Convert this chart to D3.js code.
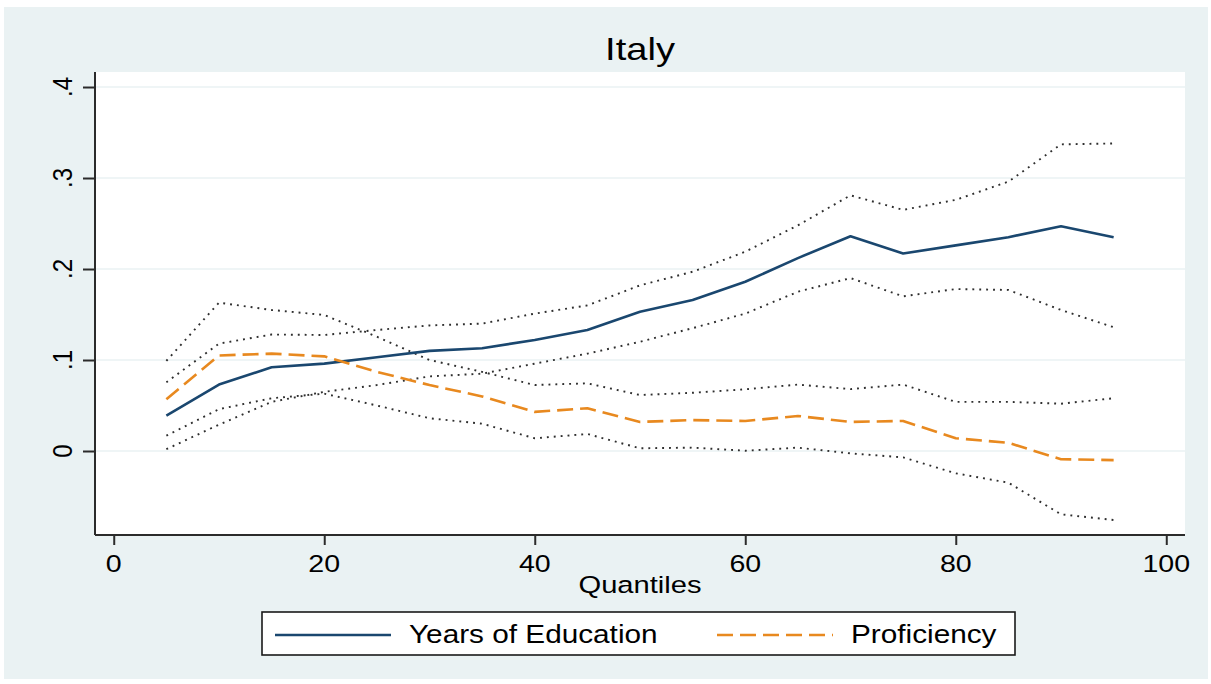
<!DOCTYPE html>
<html>
<head>
<meta charset="utf-8">
<script src="https://cdn.jsdelivr.net/npm/d3@7"></script>
<style>
  html, body { margin: 0; padding: 0; background: #ffffff; }
  svg { display: block; }
  text { font-family: "Liberation Sans", Arial, sans-serif; fill: #000; }
</style>
</head>
<body>
<svg id="chart" width="1211" height="684"></svg>
<script>
// ---- data ----
const title = "Italy";
const xTitle = "Quantiles";
const quantiles = [5, 10, 15, 20, 25, 30, 35, 40, 45, 50, 55, 60, 65, 70, 75, 80, 85, 90, 95];
const education = [0.039, 0.073, 0.092, 0.096, 0.103, 0.110, 0.113, 0.122, 0.133, 0.153, 0.166, 0.186, 0.212, 0.236, 0.217, 0.226, 0.235, 0.247, 0.235];
const educationHi = [0.0755, 0.118, 0.128, 0.1275, 0.133, 0.138, 0.140, 0.151, 0.160, 0.182, 0.197, 0.219, 0.248, 0.281, 0.265, 0.276, 0.296, 0.337, 0.338];
const educationLo = [0.002, 0.029, 0.054, 0.065, 0.0725, 0.082, 0.085, 0.096, 0.107, 0.120, 0.135, 0.151, 0.175, 0.190, 0.170, 0.178, 0.177, 0.155, 0.136];
const proficiency = [0.057, 0.105, 0.107, 0.104, 0.087, 0.0725, 0.060, 0.043, 0.047, 0.032, 0.034, 0.033, 0.0385, 0.032, 0.033, 0.014, 0.009, -0.009, -0.010];
const proficiencyHi = [0.099, 0.163, 0.155, 0.1495, 0.1256, 0.100, 0.087, 0.0725, 0.0744, 0.0615, 0.064, 0.0678, 0.073, 0.068, 0.073, 0.054, 0.054, 0.052, 0.058];
const proficiencyLo = [0.0168, 0.046, 0.058, 0.063, 0.050, 0.036, 0.030, 0.014, 0.0187, 0.003, 0.0037, 0.0003, 0.0037, -0.0026, -0.007, -0.0245, -0.0348, -0.0696, -0.0758];
const seriesNames = ["Years of Education", "Proficiency"];
const xTickValues = [0, 20, 40, 60, 80, 100];
const yTickValues = [0, 0.1, 0.2, 0.3, 0.4];
const yTickLabels = ["0", ".1", ".2", ".3", ".4"];

// ---- layout ----
const svg = d3.select("#chart");
const plot = { left: 95, right: 1185, top: 72, bottom: 535 };
const stretch = 1.19; // horizontal text stretch seen in the reference
const colors = { edu: "#1a476f", prof: "#e8891f", ci: "#2e2e2e", bg: "#eaf2f3", grid: "#eaf2f3" };
const dashPattern = "16,7";

svg.append("rect").attr("x", 4).attr("y", 7).attr("width", 1204).attr("height", 672).attr("fill", colors.bg);
svg.append("rect").attr("x", plot.left).attr("y", plot.top)
  .attr("width", plot.right - plot.left).attr("height", plot.bottom - plot.top).attr("fill", "#ffffff");

const x = d3.scaleLinear().domain([-1.78, 101.78]).range([plot.left, plot.right]);
const y = d3.scaleLinear().domain([-0.0923, 0.4165]).range([plot.bottom, plot.top]);

// gridlines
svg.append("g").selectAll("line").data(yTickValues).join("line")
  .attr("x1", plot.left).attr("x2", plot.right)
  .attr("y1", d => y(d)).attr("y2", d => y(d))
  .attr("stroke", colors.grid).attr("stroke-width", 1.6);

// lines
const line = d3.line().x((d, i) => x(quantiles[i])).y(d => y(d));
function drawSeries(arr, color, width, dash) {
  svg.append("path").datum(arr).attr("d", line)
    .attr("fill", "none").attr("stroke", color).attr("stroke-width", width)
    .attr("stroke-dasharray", dash).attr("stroke-linejoin", "round");
}
[educationHi, educationLo, proficiencyHi, proficiencyLo].forEach(a => drawSeries(a, colors.ci, 1.9, "1.9,5"));
drawSeries(education, colors.edu, 2.6, null);
drawSeries(proficiency, colors.prof, 2.6, dashPattern);

// axes
const yAxis = svg.append("g").attr("transform", `translate(${plot.left},0)`)
  .call(d3.axisLeft(y).tickValues(yTickValues).tickSize(12).tickFormat(""));
const xAxis = svg.append("g").attr("transform", `translate(0,${plot.bottom})`)
  .call(d3.axisBottom(x).tickValues(xTickValues).tickSize(10).tickFormat(""));
[yAxis, xAxis].forEach(g => {
  g.select(".domain").attr("stroke", "#2b2b2b").attr("stroke-width", 2);
  g.selectAll(".tick line").attr("stroke", "#2b2b2b").attr("stroke-width", 2);
});
yAxis.select(".domain").attr("d", `M0,${plot.top}V${plot.bottom}`);
xAxis.select(".domain").attr("d", `M${plot.left},0H${plot.right}`);

// tick labels
svg.append("g").selectAll("text").data(xTickValues).join("text")
  .attr("transform", d => `translate(${x(d)},572) scale(${stretch},1)`)
  .attr("text-anchor", "middle").attr("font-size", 24).text(d => d);
svg.append("g").selectAll("text").data(yTickValues).join("text")
  .attr("transform", d => `translate(72,${y(d)}) scale(${stretch},1) rotate(-90)`)
  .attr("text-anchor", "middle").attr("font-size", 24).text((d, i) => yTickLabels[i]);

// titles
svg.append("text").attr("transform", `translate(640,60) scale(${stretch},1)`)
  .attr("text-anchor", "middle").attr("font-size", 32).attr("fill", "#1c2a3f").text(title);
svg.append("text").attr("transform", `translate(640,593) scale(${stretch},1)`)
  .attr("text-anchor", "middle").attr("font-size", 24.5).text(xTitle);

// legend
const legend = svg.append("g");
legend.append("rect").attr("x", 262).attr("y", 612).attr("width", 753).attr("height", 43)
  .attr("fill", "#ffffff").attr("stroke", "#1a1a1a").attr("stroke-width", 1.6);
const legItems = [
  { name: seriesNames[0], color: colors.edu, dash: null, x0: 275, x1: 391, tx: 409 },
  { name: seriesNames[1], color: colors.prof, dash: dashPattern, x0: 717, x1: 833, tx: 851 }
];
legItems.forEach(it => {
  legend.append("line").attr("x1", it.x0).attr("x2", it.x1).attr("y1", 635).attr("y2", 635)
    .attr("stroke", it.color).attr("stroke-width", 2.6).attr("stroke-dasharray", it.dash);
  legend.append("text").attr("transform", `translate(${it.tx},643) scale(${stretch},1)`)
    .attr("font-size", 25).text(it.name);
});
</script>
</body>
</html>
